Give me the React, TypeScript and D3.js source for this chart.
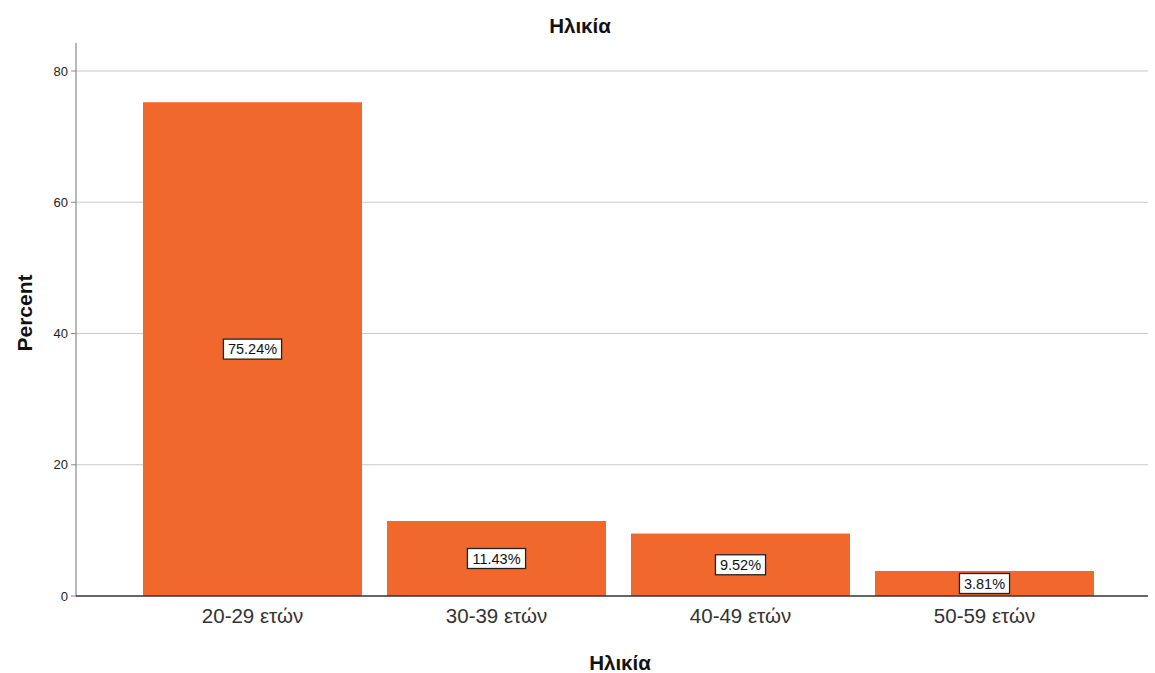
import React from "react";
import * as d3 from "d3";

const categories = ["20-29 ετών", "30-39 ετών", "40-49 ετών", "50-59 ετών"];
const percents = [75.24, 11.43, 9.52, 3.81];
const yTicks = [0, 20, 40, 60, 80];
const chartTitle = "Ηλικία";
const xTitle = "Ηλικία";
const yTitle = "Percent";

const W = 1155;
const H = 673;
const FONT = "'Liberation Sans', Arial, sans-serif";
const BAR = "#f1682c";

function labelWidth(s: string, fs: number) {
  let em = 0;
  for (const ch of s) {
    if (ch === ".") em += 0.278;
    else if (ch === "%") em += 0.889;
    else em += 0.556;
  }
  return em * fs;
}

export default function App() {
  const x0 = 76, x1 = 1148, yTop = 43;
  const y = d3.scaleLinear().domain([0, 80]).range([596, 71]);
  const p = 25 / 244;
  const x = d3.scaleBand<string>().domain(categories).range([130.5, 1106.5]).paddingInner(p).paddingOuter(p / 2);
  const lfs = 14.5;

  return (
    <svg width={W} height={H} style={{ position: "absolute", left: 0, top: 0, background: "#fff" }}>
      <text x={580} y={33} textAnchor="middle" fontFamily={FONT} fontWeight="bold" fontSize={20.5} fill="#111">{chartTitle}</text>
      {yTicks.filter(t => t > 0).map(t => (
        <line key={"g" + t} x1={x0} x2={x1} y1={y(t)} y2={y(t)} stroke="#c9c9c9" strokeWidth={1.2} />
      ))}
      {yTicks.map(t => (
        <g key={"t" + t}>
          <line x1={x0 - 5} x2={x0} y1={y(t)} y2={y(t)} stroke="#888" />
          <text x={x0 - 8} y={y(t)} dy="0.35em" textAnchor="end" fontFamily={FONT} fontSize={13} fill="#222">{t}</text>
        </g>
      ))}
      <line x1={x0} x2={x0} y1={yTop} y2={y(0)} stroke="#888" strokeWidth={1.2} />
      {categories.map((c, i) => {
        const bx = x(c)!;
        const bw = x.bandwidth();
        const top = y(percents[i]);
        const mid = (top + y(0)) / 2;
        const label = percents[i].toFixed(2) + "%";
        const boxW = labelWidth(label, lfs) + 9;
        return (
          <g key={c}>
            <rect x={bx} y={top} width={bw} height={y(0) - top} fill={BAR} />
            <rect x={bx + bw / 2 - boxW / 2} y={mid - 10} width={boxW} height={20} fill="#fff" stroke="#222" strokeWidth={1.3} />
            <text x={bx + bw / 2} y={mid} dy="0.36em" textAnchor="middle" fontFamily={FONT} fontSize={lfs} fill="#111">{label}</text>
            <text x={bx + bw / 2} y={623} textAnchor="middle" fontFamily={FONT} fontSize={20.5} fill="#333">{c}</text>
          </g>
        );
      })}
      <line x1={x0} x2={x1} y1={y(0)} y2={y(0)} stroke="#333" strokeWidth={1.3} />
      <text x={620} y={670} textAnchor="middle" fontFamily={FONT} fontWeight="bold" fontSize={20.5} fill="#111">{xTitle}</text>
      <text transform={`translate(32,313) rotate(-90)`} textAnchor="middle" fontFamily={FONT} fontWeight="bold" fontSize={21} fill="#111">{yTitle}</text>
    </svg>
  );
}
